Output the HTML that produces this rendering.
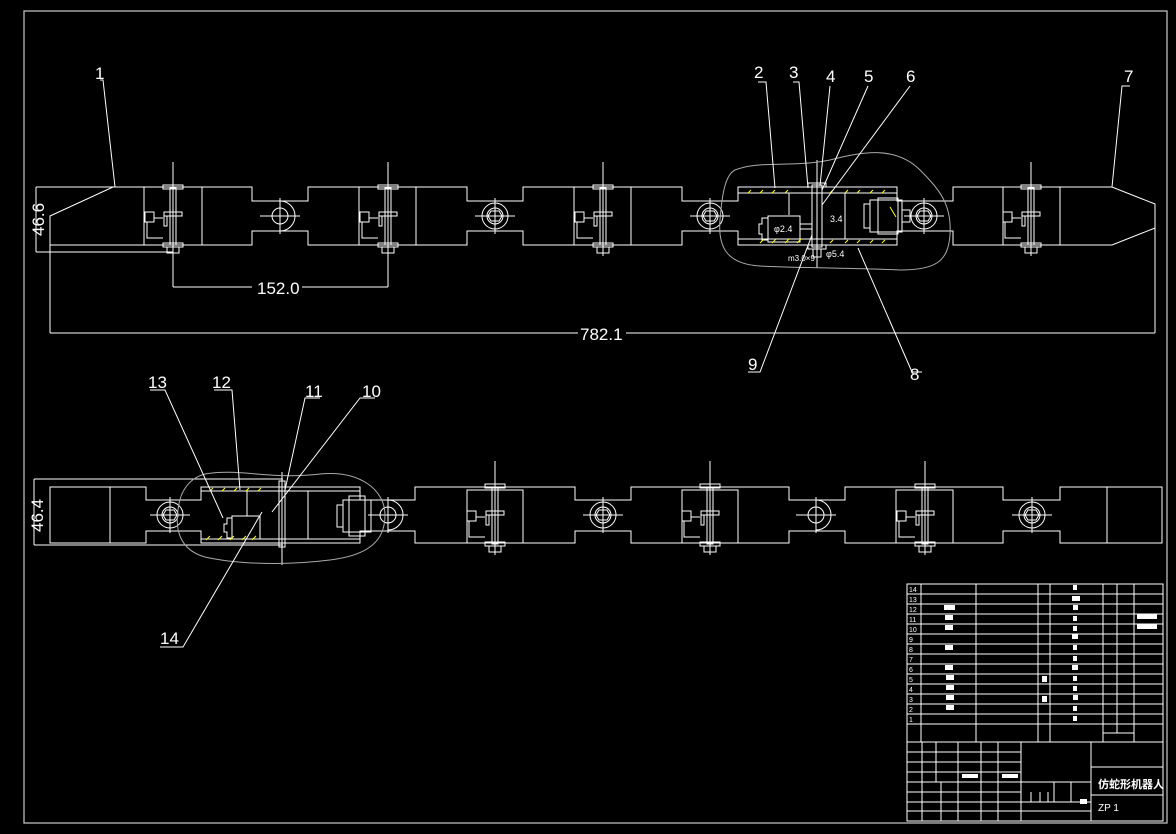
<!DOCTYPE html>
<html><head><meta charset="utf-8"><style>
html,body{margin:0;padding:0;background:#000;}
svg{display:block}
text{font-family:"Liberation Sans","Noto Sans CJK SC",sans-serif;fill:#fff}
</style></head><body>
<svg width="1176" height="834" viewBox="0 0 1176 834" xmlns="http://www.w3.org/2000/svg">
<defs>
<g id="pinT" fill="none" stroke="#fff" stroke-width="1">
 <line x1="0" y1="-54" x2="0" y2="40"/>
 <rect x="-3" y="-28" width="6" height="57"/>
 <rect x="-10" y="-31" width="20" height="4"/>
 <rect x="-10" y="27" width="20" height="4"/>
 <rect x="-6" y="31" width="12" height="6"/>
 <rect x="-9" y="-4" width="18" height="4"/>
 <path d="M-9,-4 v14 h3 v-10"/>
 <rect x="-28" y="-4" width="9" height="10"/>
 <line x1="-19" y1="2" x2="-10" y2="2"/>
 <path d="M-26,6 v16 h16"/>
</g>
<g id="neck" fill="none" stroke="#fff" stroke-width="1">
 <circle cx="0" cy="0" r="8"/>
 <path d="M0,-15 A15,15 0 0 1 0,15"/>
 <line x1="-20" y1="0" x2="20" y2="0"/>
 <line x1="0" y1="-18" x2="0" y2="18"/>
</g>
<g id="neck2" fill="none" stroke="#fff" stroke-width="1">
 <circle cx="0" cy="0" r="13"/>
 <circle cx="0" cy="0" r="8"/>
 <path d="M-4,-5 L4,-5 L7,0 L4,5 L-4,5 L-7,0 Z"/>
 <line x1="-20" y1="0" x2="20" y2="0"/>
 <line x1="0" y1="-18" x2="0" y2="18"/>
</g>
</defs>
<rect x="0" y="0" width="1176" height="834" fill="#000"/>
<rect x="24" y="11" width="1143" height="812" fill="none" stroke="#bbb" stroke-width="1.3"/>

<!-- TOP CHAIN -->
<g fill="none" stroke="#fff" stroke-width="1">
<path d="M50,216 L113,187 L252,187 L252,201 L308,201 L308,187 L467,187 L467,201 L523,201 L523,187 L682,187 L682,201 L738,201 L738,187 L897,187 L897,201 L953,201 L953,187 L1112,187 L1155,204 L1155,228 L1112,245 L953,245 L953,231 L897,231 L897,245 L738,245 L738,231 L682,231 L682,245 L523,245 L523,231 L467,231 L467,245 L308,245 L308,231 L252,231 L252,245 L50,245 Z"/>
<line x1="36" y1="187" x2="113" y2="187"/>
<line x1="36" y1="187" x2="36" y2="252"/>
<line x1="36" y1="252" x2="173" y2="252"/>
<line x1="50" y1="216" x2="50" y2="333"/>
<line x1="1155" y1="228" x2="1155" y2="333"/>
<line x1="50" y1="333" x2="578" y2="333"/>
<line x1="626" y1="333" x2="1155" y2="333"/>
<rect x="144" y="187" width="58" height="58"/>
<rect x="359" y="187" width="57" height="58"/>
<rect x="574" y="187" width="57" height="58"/>
<rect x="1003" y="187" width="57" height="58"/>
<line x1="173" y1="245" x2="173" y2="287"/>
<line x1="388" y1="245" x2="388" y2="287"/>
<line x1="173" y1="287" x2="252" y2="287"/>
<line x1="302" y1="287" x2="388" y2="287"/>
</g>
<use href="#pinT" x="173" y="216"/>
<use href="#pinT" x="388" y="216"/>
<use href="#pinT" x="603" y="216"/>
<use href="#pinT" x="1031" y="216"/>
<use href="#neck" x="280" y="216"/>
<use href="#neck2" x="495" y="216"/>
<use href="#neck2" x="710" y="216"/>
<use href="#neck2" x="924" y="216"/>

<!-- top detail section -->
<g fill="none" stroke="#fff" stroke-width="1">
<line x1="738" y1="193" x2="897" y2="193"/>
<line x1="738" y1="239" x2="897" y2="239"/>
<rect x="812" y="185" width="10" height="62"/>
<line x1="817" y1="160" x2="817" y2="268"/>
<rect x="808" y="183" width="18" height="4"/>
<rect x="808" y="245" width="18" height="4"/>
<rect x="813" y="249" width="8" height="8"/>
<line x1="845" y1="193" x2="845" y2="239"/>
<line x1="789" y1="193" x2="789" y2="215"/>
<rect x="768" y="216" width="32" height="26"/>
<path d="M768,218 h-6 v6 h-3 v10 h3 v6 h6"/>
<rect x="800" y="224" width="12" height="5"/>
<rect x="870" y="200" width="32" height="32"/>
<rect x="878" y="198" width="20" height="36"/>
<path d="M870,204 h-6 v24 h6"/>
<rect x="902" y="210" width="8" height="12"/>
</g>
<g stroke="#ff0" stroke-width="1">
<path d="M748,193 l3,-3 M760,193 l3,-3 M772,193 l3,-3 M785,193 l3,-3 M830,193 l3,-3 M845,193 l3,-3 M857,193 l3,-3 M870,193 l3,-3 M882,193 l3,-3"/>
<path d="M760,243 l4,-4 M772,243 l4,-4 M785,243 l4,-4 M797,243 l4,-4 M830,243 l3,-3 M845,243 l3,-3 M857,243 l3,-3 M870,243 l3,-3 M882,243 l3,-3 M890,207 l6,10"/>
</g>
<g font-size="9">
<text x="774" y="232" font-size="9">φ2.4</text>
<text x="830" y="222" font-size="9">3.4</text>
<text x="826" y="257" font-size="9">φ5.4</text>
<text x="788" y="261" font-size="8">m3.0×9</text>
</g>
<path d="M735,170 C760,160 790,168 830,160 C860,152 895,145 920,170 C940,190 952,205 950,235 C948,262 935,270 900,270 C860,268 800,268 760,266 C725,264 718,245 720,220 C722,195 725,175 735,170 Z" fill="none" stroke="#aaa" stroke-width="1"/>

<!-- BOTTOM CHAIN -->
<g fill="none" stroke="#fff" stroke-width="1">
<path d="M50,487 L146,487 L146,500 L201,500 L201,487 L360,487 L360,500 L415,500 L415,487 L575,487 L575,500 L631,500 L631,487 L789,487 L789,500 L845,500 L845,487 L1003,487 L1003,500 L1060,500 L1060,487 L1162,487 L1162,543 L1060,543 L1060,531 L1003,531 L1003,543 L845,543 L845,531 L789,531 L789,543 L631,543 L631,531 L575,531 L575,543 L415,543 L415,531 L360,531 L360,543 L201,543 L201,531 L146,531 L146,543 L50,543 Z"/>
<line x1="34" y1="479" x2="283" y2="479"/>
<line x1="34" y1="545" x2="283" y2="545"/>
<line x1="34" y1="479" x2="34" y2="545"/>
<line x1="110" y1="487" x2="110" y2="543"/>
<line x1="1107" y1="487" x2="1107" y2="543"/>
<rect x="467" y="490" width="56" height="53"/>
<rect x="682" y="490" width="56" height="53"/>
<rect x="896" y="490" width="57" height="53"/>
<line x1="201" y1="491" x2="360" y2="491"/>
<line x1="201" y1="539" x2="360" y2="539"/>
<rect x="279" y="481" width="6" height="66"/>
<line x1="282" y1="472" x2="282" y2="565"/>
<line x1="308" y1="491" x2="308" y2="539"/>
<rect x="232" y="516" width="28" height="23"/>
<path d="M232,518 h-5 v6 h-3 v8 h3 v6 h5"/>
<line x1="247" y1="490" x2="247" y2="516"/>
<rect x="343" y="500" width="28" height="32"/>
<rect x="349" y="496" width="16" height="40"/>
<path d="M343,505 h-6 v22 h6"/>
</g>
<g stroke="#ff0" stroke-width="1">
<path d="M210,491 l3,-3 M222,491 l3,-3 M234,491 l3,-3 M246,491 l3,-3 M258,491 l3,-3 M206,540 l4,-4 M218,540 l4,-4 M230,540 l4,-4 M242,540 l4,-4 M252,540 l4,-4"/>
</g>
<use href="#pinT" x="495" y="515"/>
<use href="#pinT" x="710" y="515"/>
<use href="#pinT" x="925" y="515"/>
<use href="#neck2" x="170" y="515"/>
<use href="#neck" x="388" y="515"/>
<use href="#neck2" x="603" y="515"/>
<use href="#neck" x="816" y="515"/>
<use href="#neck2" x="1032" y="515"/>
<path d="M205,474 C240,468 270,480 320,474 C360,470 385,490 385,515 C385,540 370,555 330,560 C290,565 240,565 205,557 C180,550 175,530 178,510 C180,490 190,478 205,474 Z" fill="none" stroke="#aaa" stroke-width="1"/>

<!-- LEADERS -->
<g stroke="#fff" stroke-width="1" fill="none">
<path d="M100,80 h3 L115,187"/>
<path d="M758,82 h8 L775,188"/>
<path d="M793,82 h6 L808,188"/>
<path d="M830,86 L820,186"/>
<path d="M868,86 L822,190"/>
<path d="M910,86 L822,205"/>
<path d="M1130,86 h-8 L1112,187"/>
<path d="M748,372 h12 L812,235"/>
<path d="M922,372 h-10 L858,248"/>
<path d="M150,390 h15 L223,518"/>
<path d="M214,390 h18 L240,490"/>
<path d="M320,398 h-15 L285,490"/>
<path d="M375,398 h-15 L272,512"/>
<path d="M160,647 h23 L262,512"/>
</g>
<g font-size="17">
<text x="95" y="79">1</text>
<text x="754" y="78">2</text>
<text x="789" y="78">3</text>
<text x="826" y="82">4</text>
<text x="864" y="82">5</text>
<text x="906" y="82">6</text>
<text x="1124" y="82">7</text>
<text x="748" y="370">9</text>
<text x="910" y="380">8</text>
<text x="148" y="388">13</text>
<text x="212" y="388">12</text>
<text x="305" y="397">11</text>
<text x="362" y="397">10</text>
<text x="160" y="644">14</text>
<text x="257" y="294" font-size="17">152.0</text>
<text x="580" y="340" font-size="17">782.1</text>
<text transform="translate(44,236) rotate(-90)" font-size="17">46.6</text>
<text transform="translate(43,532) rotate(-90)" font-size="17">46.4</text>
</g>

<!-- TITLE BLOCK -->
<g fill="none" stroke="#fff" stroke-width="1">
<rect x="907" y="584" width="256" height="237"/>
<path d="M907,594 H1163 M907,604 H1163 M907,614 H1163 M907,624 H1163 M907,634 H1163 M907,644 H1163 M907,654 H1163 M907,664 H1163 M907,674 H1163 M907,684 H1163 M907,694 H1163 M907,704 H1163 M907,714 H1163 M907,724 H1163 M907,742 H1163"/>
<path d="M921,584 V742 M976,584 V742 M1038,584 V742 M1050,584 V742 M1103,584 V742 M1117,584 V733 M1134,584 V742 M1103,733 H1134"/>
<path d="M907,752 H1021 M907,762 H1021 M907,772 H1021 M907,782 H1091 M907,792 H1021 M907,802 H1091 M907,811 H1091"/>
<path d="M922,742 V821 M936,742 V782 M958,742 V792 M981,742 V792 M998,742 V782 M941,782 V821 M958,792 V821 M981,792 V821 M998,782 V821 M1021,742 V821 M1091,742 V821 M1054,782 V802 M1071,782 V802 M1031,792 V802 M1040,792 V802 M1048,792 V802"/>
<path d="M1091,767 H1163 M1091,795 H1163"/>
</g>
<g fill="#fff">
<text x="909" y="592" font-size="7">14</text><text x="909" y="602" font-size="7">13</text><text x="909" y="612" font-size="7">12</text><text x="909" y="622" font-size="7">11</text><text x="909" y="632" font-size="7">10</text><text x="909" y="642" font-size="7">9</text><text x="909" y="652" font-size="7">8</text><text x="909" y="662" font-size="7">7</text><text x="909" y="672" font-size="7">6</text><text x="909" y="682" font-size="7">5</text><text x="909" y="692" font-size="7">4</text><text x="909" y="702" font-size="7">3</text><text x="909" y="712" font-size="7">2</text><text x="909" y="722" font-size="7">1</text>
<rect x="944" y="605" width="11" height="5"/><rect x="945" y="615" width="8" height="5"/><rect x="945" y="625" width="8" height="5"/><rect x="945" y="645" width="8" height="5"/><rect x="945" y="665" width="8" height="5"/><rect x="946" y="675" width="8" height="5"/><rect x="946" y="685" width="8" height="5"/><rect x="946" y="695" width="8" height="5"/><rect x="946" y="705" width="8" height="5"/>
<rect x="1073" y="585" width="4" height="5"/><rect x="1072" y="596" width="8" height="5"/><rect x="1073" y="605" width="5" height="5"/><rect x="1073" y="616" width="4" height="5"/><rect x="1073" y="626" width="4" height="5"/><rect x="1072" y="634" width="6" height="5"/><rect x="1073" y="645" width="4" height="5"/><rect x="1073" y="656" width="4" height="5"/><rect x="1072" y="665" width="6" height="5"/><rect x="1073" y="676" width="4" height="5"/><rect x="1073" y="686" width="4" height="5"/><rect x="1073" y="695" width="5" height="5"/><rect x="1073" y="706" width="4" height="5"/><rect x="1073" y="716" width="4" height="5"/>
<rect x="1137" y="614" width="20" height="5"/><rect x="1137" y="624" width="20" height="5"/>
<rect x="1042" y="676" width="5" height="6"/><rect x="1042" y="696" width="5" height="6"/>
<rect x="962" y="774" width="16" height="4"/><rect x="1002" y="774" width="16" height="4"/><rect x="1080" y="799" width="7" height="5"/>
<text x="1098" y="788" font-size="11" font-weight="bold">仿蛇形机器人</text>
<text x="1098" y="811" font-size="10">ZP 1</text>
</g>
</svg>
</body></html>
